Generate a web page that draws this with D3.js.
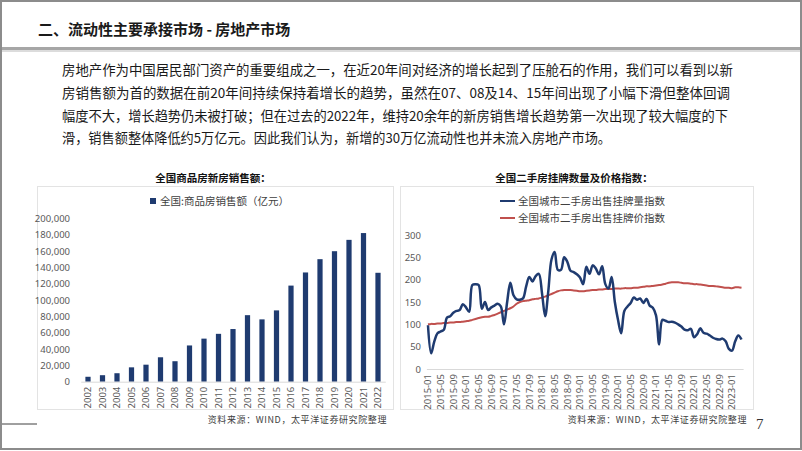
<!DOCTYPE html>
<html>
<head>
<meta charset="utf-8">
<script src="https://cdn.jsdelivr.net/npm/d3@7"></script>
<style>
body { margin: 0; background: #fff; }
svg { display: block; font-family: "Noto Sans CJK SC", "Noto Sans", sans-serif; }
</style>
</head>
<body>
<svg id="page" width="802" height="451"></svg>
<script>
// new-home sales, 100 million yuan
var years = ["2002","2003","2004","2005","2006","2007","2008","2009","2010","2011","2012",
  "2013","2014","2015","2016","2017","2018","2019","2020","2021","2022"];
var sales = [6032, 7955, 10376, 17576, 20826, 29889, 25068, 44355, 52721, 58589, 64456,
  81428, 76292, 87281, 117627, 133701, 149973, 159725, 173613, 181930, 133308];
var salesTicks = [0, 20000, 40000, 60000, 80000, 100000, 120000, 140000, 160000, 180000, 200000];

// second-hand listings, monthly 2015-01 .. 2023-04
var listingVol = [98, 35, 62, 80, 84, 88, 115, 118, 126, 130, 132, 145, 138, 128, 188, 190, 188, 135, 150, 132,
  138, 142, 146, 140, 100, 150, 193, 165, 156, 155, 158, 185, 206, 196, 208, 213, 170, 118, 175, 245,
  262, 222, 222, 250, 240, 220, 217, 212, 205, 190, 229, 213, 232, 225, 212, 230, 190, 180, 206, 150,
  110, 80, 130, 140, 148, 160, 155, 158, 148, 157, 142, 137, 120, 55, 110, 108, 105, 106, 104, 100,
  95, 88, 87, 90, 71, 78, 91, 81, 79, 75, 70, 67, 66, 68, 62, 45, 41, 62, 75, 66];
var listingPrice = [100, 101, 101, 102, 102, 103, 103, 104, 104, 105, 105, 106, 107, 108, 110, 112, 114, 116, 117, 117,
  119, 121, 124, 127, 130, 133, 136, 140, 146, 150, 152, 153, 154, 156, 157, 158, 160, 162, 165, 168,
  171, 174, 176, 177, 177, 177, 176, 175, 174, 174, 175, 176, 177, 177, 178, 178, 179, 179, 179, 180,
  180, 180, 181, 181, 181, 182, 182, 183, 184, 185, 185, 186, 187, 188, 189, 191, 193, 194, 194, 194,
  193, 192, 192, 191, 190, 190, 189, 188, 187, 186, 186, 185, 184, 183, 182, 182, 181, 183, 183, 182];
var listTicks = [0, 50, 100, 150, 200, 250, 300];

var fmtMonth = d3.timeFormat("%Y-%m");
var months = d3.timeMonth.range(new Date(2015, 0, 1), new Date(2023, 4, 1)).map(fmtMonth);

var bodyLines = [
  "房地产作为中国居民部门资产的重要组成之一，在近20年间对经济的增长起到了压舱石的作用，我们可以看到以新",
  "房销售额为首的数据在前20年间持续保持着增长的趋势，虽然在07、08及14、15年间出现了小幅下滑但整体回调",
  "幅度不大，增长趋势仍未被打破；但在过去的2022年，维持20余年的新房销售增长趋势第一次出现了较大幅度的下",
  "滑，销售额整体降低约5万亿元。因此我们认为，新增的30万亿流动性也并未流入房地产市场。"
];
var lineEnds = [733, 730, 728, 611];

var blue = "#1f3b70", red = "#c0504d", axisGray = "#d9d9d9", labelGray = "#595959";

var svg = d3.select("#page");

// page frame + header
svg.append("rect").attr("x", 1).attr("y", 1).attr("width", 800).attr("height", 448)
  .attr("fill", "none").attr("stroke", "#8c8c8c").attr("stroke-width", 2);
svg.append("text").attr("x", 38).attr("y", 35)
  .attr("font-size", 15).attr("font-weight", "bold").attr("fill", "#1a1a1a")
  .text("二、流动性主要承接市场 - 房地产市场");
svg.append("rect").attr("x", 2).attr("y", 47).attr("width", 798).attr("height", 3).attr("fill", "#a6a6a6");
svg.append("rect").attr("x", 2).attr("y", 50).attr("width", 798).attr("height", 2).attr("fill", "#dcdcdc");
svg.append("line").attr("x1", 2).attr("x2", 37).attr("y1", 424).attr("y2", 424)
  .attr("stroke", "#404040").attr("stroke-width", 1);

svg.append("g").selectAll("text")
  .data(bodyLines)
  .enter().append("text")
  .attr("x", 62)
  .attr("y", function(d, i) { return 75 + i * 22.8; })
  .attr("font-size", 13.5).attr("fill", "#1a1a1a")
  .attr("textLength", function(d, i) { return lineEnds[i] - 62; })
  .attr("lengthAdjust", "spacingAndGlyphs")
  .text(function(d) { return d; });

// ---------- left chart: bars ----------
var left = svg.append("g");
left.append("rect").attr("x", 37.5).attr("y", 186.5).attr("width", 356).attr("height", 223)
  .attr("fill", "#fff").attr("stroke", "#e3e3e3");
left.append("text").attr("x", 213).attr("y", 182).attr("text-anchor", "middle")
  .attr("font-size", 10.5).attr("font-weight", "bold").attr("fill", "#111")
  .text("全国商品房新房销售额：");

var xBar = d3.scaleBand().domain(years).range([80.75, 385.25]).paddingInner(0.64).paddingOuter(0.32);
var yBar = d3.scaleLinear().domain([0, 200000]).range([381.7, 218.3]);

left.append("g")
  .attr("transform", "translate(" + 72 + ",0)")
  .call(d3.axisLeft(yBar).tickValues(salesTicks).tickSize(0).tickPadding(2).tickFormat(d3.format(",")))
  .call(function(g) { g.select(".domain").remove(); })
  .selectAll("text").attr("font-size", 9.5).attr("fill", labelGray)
  .attr("font-family", "\"Noto Sans\", sans-serif");

left.append("g").selectAll("rect")
  .data(sales)
  .enter().append("rect")
  .attr("x", function(d, i) { return xBar(years[i]); })
  .attr("y", function(d) { return yBar(d); })
  .attr("width", xBar.bandwidth())
  .attr("height", function(d) { return yBar(0) - yBar(d); })
  .attr("fill", blue);

var xAxisL = left.append("g")
  .attr("transform", "translate(0," + yBar(0) + ")")
  .call(d3.axisBottom(xBar).tickSize(0).tickPadding(4));
xAxisL.select(".domain").attr("stroke", axisGray);
xAxisL.selectAll("text")
  .attr("transform", "rotate(-90)")
  .attr("text-anchor", "end")
  .attr("x", -5).attr("y", 0).attr("dy", "0.35em")
  .attr("font-size", 9.5).attr("fill", labelGray)
  .attr("font-family", "\"Noto Sans\", sans-serif");

var legL = left.append("g");
legL.append("rect").attr("x", 150).attr("y", 198).attr("width", 6).attr("height", 6).attr("fill", blue);
legL.append("text").attr("x", 160).attr("y", 205).attr("font-size", 10.5).attr("fill", "#404040")
  .text("全国:商品房销售额（亿元）");

left.append("text").attr("x", 387).attr("y", 423).attr("text-anchor", "end")
  .attr("font-size", 9).attr("fill", "#404040").attr("letter-spacing", 0.6)
  .text("资料来源：WIND，太平洋证券研究院整理");

// ---------- right chart: lines ----------
var right = svg.append("g");
right.append("rect").attr("x", 400.5).attr("y", 186.5).attr("width", 353).attr("height", 223)
  .attr("fill", "#fff").attr("stroke", "#e3e3e3");
right.append("text").attr("x", 574).attr("y", 182).attr("text-anchor", "middle")
  .attr("font-size", 10.5).attr("font-weight", "bold").attr("fill", "#111")
  .text("全国二手房挂牌数量及价格指数：");

var xLine = d3.scaleBand().domain(months).range([426.4, 743.1]);
var yLine = d3.scaleLinear().domain([0, 300]).range([369, 235]);
var xc = function(i) { return xLine(months[i]) + xLine.bandwidth() / 2; };

right.append("g")
  .attr("transform", "translate(" + 421 + ",0)")
  .call(d3.axisLeft(yLine).tickValues(listTicks).tickSize(0).tickPadding(0))
  .call(function(g) { g.select(".domain").remove(); })
  .selectAll("text").attr("font-size", 9.5).attr("fill", labelGray)
  .attr("font-family", "\"Noto Sans\", sans-serif");

var xAxisR = right.append("g")
  .attr("transform", "translate(0," + yLine(0) + ")")
  .call(d3.axisBottom(xLine)
    .tickValues(months.filter(function(d, i) { return i % 4 === 0; }))
    .tickSize(0).tickPadding(4));
xAxisR.select(".domain").attr("stroke", axisGray);
xAxisR.selectAll("text")
  .attr("transform", "rotate(-90)")
  .attr("text-anchor", "end")
  .attr("x", -5).attr("y", 0).attr("dy", "0.35em")
  .attr("font-size", 9.5).attr("fill", labelGray)
  .attr("font-family", "\"Noto Sans\", sans-serif");

var line = d3.line()
  .x(function(d, i) { return xc(i); })
  .y(function(d) { return yLine(d); })
  .curve(d3.curveCatmullRom.alpha(0.5));

right.append("path").datum(listingPrice)
  .attr("d", line).attr("fill", "none").attr("stroke", red).attr("stroke-width", 2);
right.append("path").datum(listingVol)
  .attr("d", line).attr("fill", "none").attr("stroke", blue).attr("stroke-width", 2.5);

var legItems = [["全国城市二手房出售挂牌量指数", blue], ["全国城市二手房出售挂牌价指数", red]];
var legR = right.append("g").selectAll("g")
  .data(legItems)
  .enter().append("g")
  .attr("transform", function(d, i) { return "translate(0," + (201 + i * 17) + ")"; });
legR.append("line").attr("x1", 500).attr("x2", 515).attr("y1", 0).attr("y2", 0)
  .attr("stroke", function(d) { return d[1]; }).attr("stroke-width", 2);
legR.append("text").attr("x", 518).attr("y", 4).attr("font-size", 10.5).attr("fill", "#404040")
  .text(function(d) { return d[0]; });

right.append("text").attr("x", 747).attr("y", 423).attr("text-anchor", "end")
  .attr("font-size", 9).attr("fill", "#404040").attr("letter-spacing", 0.6)
  .text("资料来源：WIND，太平洋证券研究院整理");
right.append("text").attr("x", 756).attr("y", 429)
  .attr("font-size", 15).attr("fill", "#333").attr("font-family", "\"Liberation Serif\", serif")
  .text("7");
</script>
</body>
</html>
